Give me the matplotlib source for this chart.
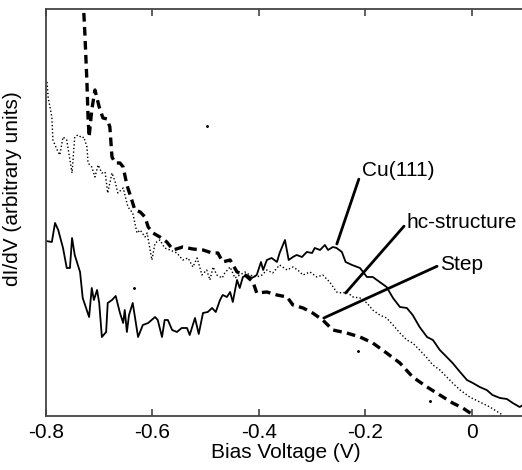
import matplotlib.pyplot as plt

plt.rcParams['font.family'] = ['Liberation Sans', 'DejaVu Sans']

# Cu(111) - solid
cu_v = [-0.800, -0.789, -0.783, -0.777, -0.768, -0.761, -0.755, -0.751, -0.746, -0.736,
        -0.731, -0.719, -0.714, -0.710, -0.704, -0.700, -0.695, -0.687, -0.684, -0.676,
        -0.669, -0.661, -0.655, -0.652, -0.648, -0.644, -0.637, -0.627, -0.618, -0.608,
        -0.595, -0.590, -0.582, -0.577, -0.571, -0.563, -0.554, -0.545, -0.535, -0.530,
        -0.520, -0.513, -0.505, -0.496, -0.488, -0.481, -0.473, -0.468, -0.460, -0.454,
        -0.449, -0.441, -0.436, -0.430, -0.423, -0.413, -0.404, -0.396, -0.392, -0.385,
        -0.376, -0.366, -0.361, -0.351, -0.344, -0.336, -0.329, -0.319, -0.310, -0.300,
        -0.295, -0.285, -0.276, -0.270, -0.261, -0.254, -0.244, -0.237, -0.225, -0.210,
        -0.197, -0.186, -0.173, -0.160, -0.148, -0.135, -0.122, -0.111, -0.098, -0.084,
        -0.073, -0.060, -0.047, -0.036, -0.022, -0.009, 0.002, 0.015, 0.028, 0.039,
        0.053, 0.066, 0.077, 0.090, 0.100]
cu_g = [175, 174, 193, 186, 168, 148, 148, 178, 161, 144,
        118, 99, 128, 116, 126, 113, 79, 84, 113, 116,
        120, 103, 93, 106, 84, 101, 113, 79, 91, 93,
        99, 96, 79, 96, 96, 86, 84, 88, 88, 81,
        98, 82, 103, 104, 108, 104, 116, 121, 119, 124,
        114, 136, 128, 139, 141, 138, 141, 154, 146, 156,
        158, 154, 163, 176, 156, 159, 161, 159, 164, 163,
        168, 166, 171, 166, 169, 168, 164, 154, 151, 148,
        139, 139, 134, 129, 118, 109, 108, 101, 89, 79,
        76, 66, 59, 53, 44, 36, 33, 29, 26, 21,
        18, 17, 13, 9, 12]

# hc-structure - dotted
hc_v = [-0.798, -0.796, -0.789, -0.787, -0.779, -0.774, -0.768, -0.761, -0.755, -0.751,
        -0.746, -0.740, -0.732, -0.729, -0.723, -0.721, -0.714, -0.708, -0.702, -0.695,
        -0.689, -0.684, -0.676, -0.670, -0.665, -0.655, -0.646, -0.637, -0.629, -0.623,
        -0.614, -0.610, -0.601, -0.595, -0.586, -0.577, -0.567, -0.554, -0.543, -0.533,
        -0.524, -0.516, -0.507, -0.498, -0.492, -0.486, -0.479, -0.469, -0.464, -0.454,
        -0.445, -0.436, -0.426, -0.417, -0.404, -0.394, -0.385, -0.374, -0.361, -0.347,
        -0.336, -0.327, -0.317, -0.304, -0.291, -0.280, -0.267, -0.254, -0.244, -0.235,
        -0.223, -0.210, -0.197, -0.186, -0.173, -0.160, -0.148, -0.135, -0.122, -0.111,
        -0.098, -0.084, -0.073, -0.060, -0.047, -0.036, -0.022, -0.004, 0.015, 0.034,
        0.058]
hc_g = [334, 319, 299, 276, 266, 261, 279, 276, 256, 243,
        279, 281, 278, 279, 269, 253, 249, 239, 251, 243,
        244, 223, 243, 234, 223, 228, 209, 203, 183, 186,
        179, 183, 156, 173, 176, 168, 166, 163, 156, 158,
        149, 158, 141, 146, 136, 149, 141, 138, 143, 149,
        138, 141, 144, 141, 139, 141, 146, 143, 151, 146,
        149, 146, 141, 144, 139, 141, 134, 124, 123, 124,
        119, 118, 113, 106, 101, 98, 91, 83, 76, 73,
        66, 58, 51, 46, 39, 33, 26, 19, 14, 9,
        1]

# Step - dashed
step_v = [-0.732, -0.727, -0.723, -0.721, -0.719, -0.714, -0.708, -0.700, -0.693, -0.685,
          -0.680, -0.676, -0.670, -0.661, -0.655, -0.648, -0.640, -0.633, -0.623, -0.614,
          -0.608, -0.599, -0.586, -0.573, -0.561, -0.543, -0.524, -0.505, -0.488, -0.477,
          -0.468, -0.454, -0.441, -0.426, -0.411, -0.404, -0.385, -0.366, -0.347, -0.336,
          -0.317, -0.299, -0.280, -0.261, -0.235, -0.210, -0.186, -0.160, -0.135, -0.111,
          -0.084, -0.060, -0.036, -0.017, 0.000]
step_g = [436, 383, 333, 299, 279, 306, 326, 309, 298, 297,
          289, 259, 253, 253, 249, 231, 218, 206, 204, 199,
          189, 183, 179, 174, 166, 169, 167, 166, 163, 163,
          154, 156, 144, 141, 134, 123, 124, 121, 119, 111,
          108, 103, 96, 86, 83, 79, 73, 63, 53, 39,
          29, 21, 13, 8, 2]

# stray specks in the scan
speck_v = [-0.498, -0.635, -0.214, -0.079]
speck_g = [290, 128, 65, 15]

xticks = [-0.8, -0.6, -0.4, -0.2, 0]
xticklabels = ['-0.8', '-0.6', '-0.4', '-0.2', '0']

fig = plt.figure(figsize=(5.22, 4.70), dpi=100)
ax = fig.add_axes([0.0881, 0.1149, 0.9176, 0.866])

ax.plot(cu_v, cu_g, color='black', lw=1.3)
ax.plot(hc_v, hc_g, color='black', lw=1.0, linestyle=(0, (1, 1.6)))
ax.plot(step_v, step_g, color='black', lw=2.4, linestyle=(0, (2.6, 1.6)))
ax.scatter(speck_v, speck_g, s=1.2, color='black')

line_kw = dict(arrowstyle='-', lw=2, color='black', shrinkA=0, shrinkB=0, relpos=(0, 0.5))
ax.annotate('Cu(111)', xy=(-0.2535, 172), xytext=(-0.207, 245), fontsize=15,
            ha='left', va='center', arrowprops=line_kw)
ax.annotate('hc-structure', xy=(-0.237, 123), xytext=(-0.122, 193), fontsize=15,
            ha='left', va='center', arrowprops=line_kw)
ax.annotate('Step', xy=(-0.278, 98), xytext=(-0.060, 151), fontsize=15,
            ha='left', va='center', arrowprops=line_kw)

ax.set_xlim(-0.8, 0.1)
ax.set_ylim(0, 407)
ax.set_xticks(xticks)
ax.set_xticklabels(xticklabels)
ax.set_yticks([])
ax.tick_params(axis='x', direction='in', top=True, length=5, width=1.1,
               labelsize=15, pad=5, color='#333333')
ax.spines['right'].set_visible(False)
for s in ['left', 'top', 'bottom']:
    ax.spines[s].set_linewidth(1.3)
    ax.spines[s].set_color('#444444')

ax.set_xlabel('Bias Voltage (V)', fontsize=15, labelpad=1)
ax.set_ylabel('dI/dV (arbitrary units)', fontsize=15)
ax.yaxis.set_label_coords(-0.05, 0.558)

fig.savefig('out.png', dpi=100)
